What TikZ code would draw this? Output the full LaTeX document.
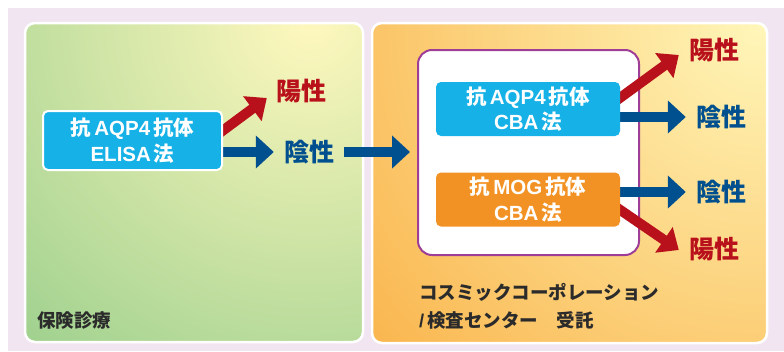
\documentclass[tikz,border=0pt]{standalone}
\usepackage{fontspec}
\newfontfamily\jp{Noto Sans CJK JP}
\newfontfamily\latf{Liberation Sans}
\usetikzlibrary{arrows.meta,calc}
\definecolor{lav}{HTML}{F1E5F1}
\definecolor{grn}{HTML}{8CC985}
\definecolor{ylw}{HTML}{FFF8BE}
\definecolor{org}{HTML}{F9AC3E}
\definecolor{ylw2}{HTML}{FFF6B9}
\definecolor{cyanbox}{HTML}{16B1E6}
\definecolor{orgbox}{HTML}{F39224}
\definecolor{purp}{HTML}{9E3E97}
\definecolor{redc}{HTML}{B9111B}
\definecolor{bluc}{HTML}{00508F}
\definecolor{darkt}{HTML}{2B2B2B}
\newcommand\lt[1]{{\latf\bfseries #1}}
\begin{document}
\begin{tikzpicture}[x=1pt,y=-1pt,
  testbox/.style={rounded corners=5pt, inner sep=0pt, text=white, align=center,
    font=\jp\bfseries\fontsize{20.5}{25.5}\selectfont, minimum width=184pt, minimum height=54pt},
  reslabel/.style={inner sep=0pt, font=\jp\bfseries\fontsize{25}{25}\selectfont},
  bluearr/.style={draw=bluc, line width=10pt, -{Triangle[length=18pt,width=32pt]}},
  redarr/.style={draw=redc, line width=10pt, -{Triangle[length=18pt,width=30pt]}},
  panellabel/.style={inner sep=0pt, text=darkt, font=\jp\bfseries\fontsize{18.5}{28}\selectfont}]
\useasboundingbox (0,0) rectangle (784,351);
\fill[white] (0,0) rectangle (784,351);
\fill[lav] (8,8) rectangle (784,351);
% left panel
\begin{scope}
  \clip[rounded corners=10pt] (25,23) rectangle (363,342);
  \shade[inner color=ylw, outer color=grn] (310,20) circle[radius=520];
\end{scope}
\draw[white, line width=2.5pt, rounded corners=10pt] (25,23) rectangle (363,342);
% right panel
\begin{scope}
  \clip[rounded corners=10pt] (372,23) rectangle (767,343);
  \shade[inner color=ylw2, outer color=org] (760,25) circle[radius=580];
\end{scope}
\draw[white, line width=2.5pt, rounded corners=10pt] (372,23) rectangle (767,343);

% nodes
\node[testbox, fill=cyanbox, minimum width=179pt, minimum height=59pt] (elisa) at (132.5,140.5)
  {抗\hspace{3pt}\lt{AQP4}\hspace{3pt}抗体\\\lt{ELISA}\hspace{3pt}法};
\node[reslabel, text=redc] (pos1) at (301,91) {陽性};
\node[reslabel, text=bluc] (neg1) at (309,152) {陰性};

\node[draw=purp, line width=2pt, fill=white, rounded corners=14pt, minimum width=221pt, minimum height=205pt] (inner) at (528.5,152.5) {};
\node[reslabel, text=redc] (pos2) at (714,50) {陽性};
\node[reslabel, text=bluc] (neg2) at (721,117) {陰性};
\node[reslabel, text=bluc] (neg3) at (721,192) {陰性};
\node[reslabel, text=redc] (pos3) at (714,249) {陽性};

% arrows (drawn before boxes so boxes cover the tails)
\draw[redarr] ($(elisa.east)+(-8,-3.5)$) -- ($(pos1.west)+(-9,7)$);
\draw[bluearr] ($(elisa.east |- neg1.west)+(-6,0)$) -- ($(neg1.west)+(-10,0)$);
\draw[bluearr] ($(neg1.east)+(10,0)$) -- ($(inner.west |- neg1.east)+(-7,0)$);

\draw[redarr] ($(inner.east)+(-27,-49.5)$) -- ($(pos2.west)+(-10,5)$);
\draw[bluearr] ($(inner.east |- neg2.west)+(-27,0)$) -- ($(neg2.west)+(-10,0)$);
\draw[bluearr] ($(inner.east |- neg3.west)+(-27,0)$) -- ($(neg3.west)+(-10,0)$);
\draw[redarr] ($(inner.east)+(-27,52.5)$) -- ($(pos3.west)+(-10,1)$);

% redraw elisa box with white border on top of arrows
\node[testbox, fill=cyanbox, draw=white, line width=2pt, minimum width=179pt, minimum height=59pt] at (elisa) {抗\hspace{3pt}\lt{AQP4}\hspace{3pt}抗体\\\lt{ELISA}\hspace{3pt}法};
\node[testbox, fill=cyanbox] (aqp) at (528,109) {抗\hspace{3pt}\lt{AQP4}\hspace{3pt}抗体\\\lt{CBA}\hspace{3pt}法};
\node[testbox, fill=orgbox] (mog) at (528,199.5) {抗\hspace{3pt}\lt{MOG}\hspace{3pt}抗体\\\lt{CBA}\hspace{3pt}法};

% panel labels
\node[panellabel, anchor=west] (hoken) at (37,321) {保険診療};
\node[panellabel, anchor=north west, align=left] (cosmic) at (419,283) {コスミックコーポレーション\\{\latf\bfseries /}\hspace{3pt}検査センター　受託};
\end{tikzpicture}
\end{document}
